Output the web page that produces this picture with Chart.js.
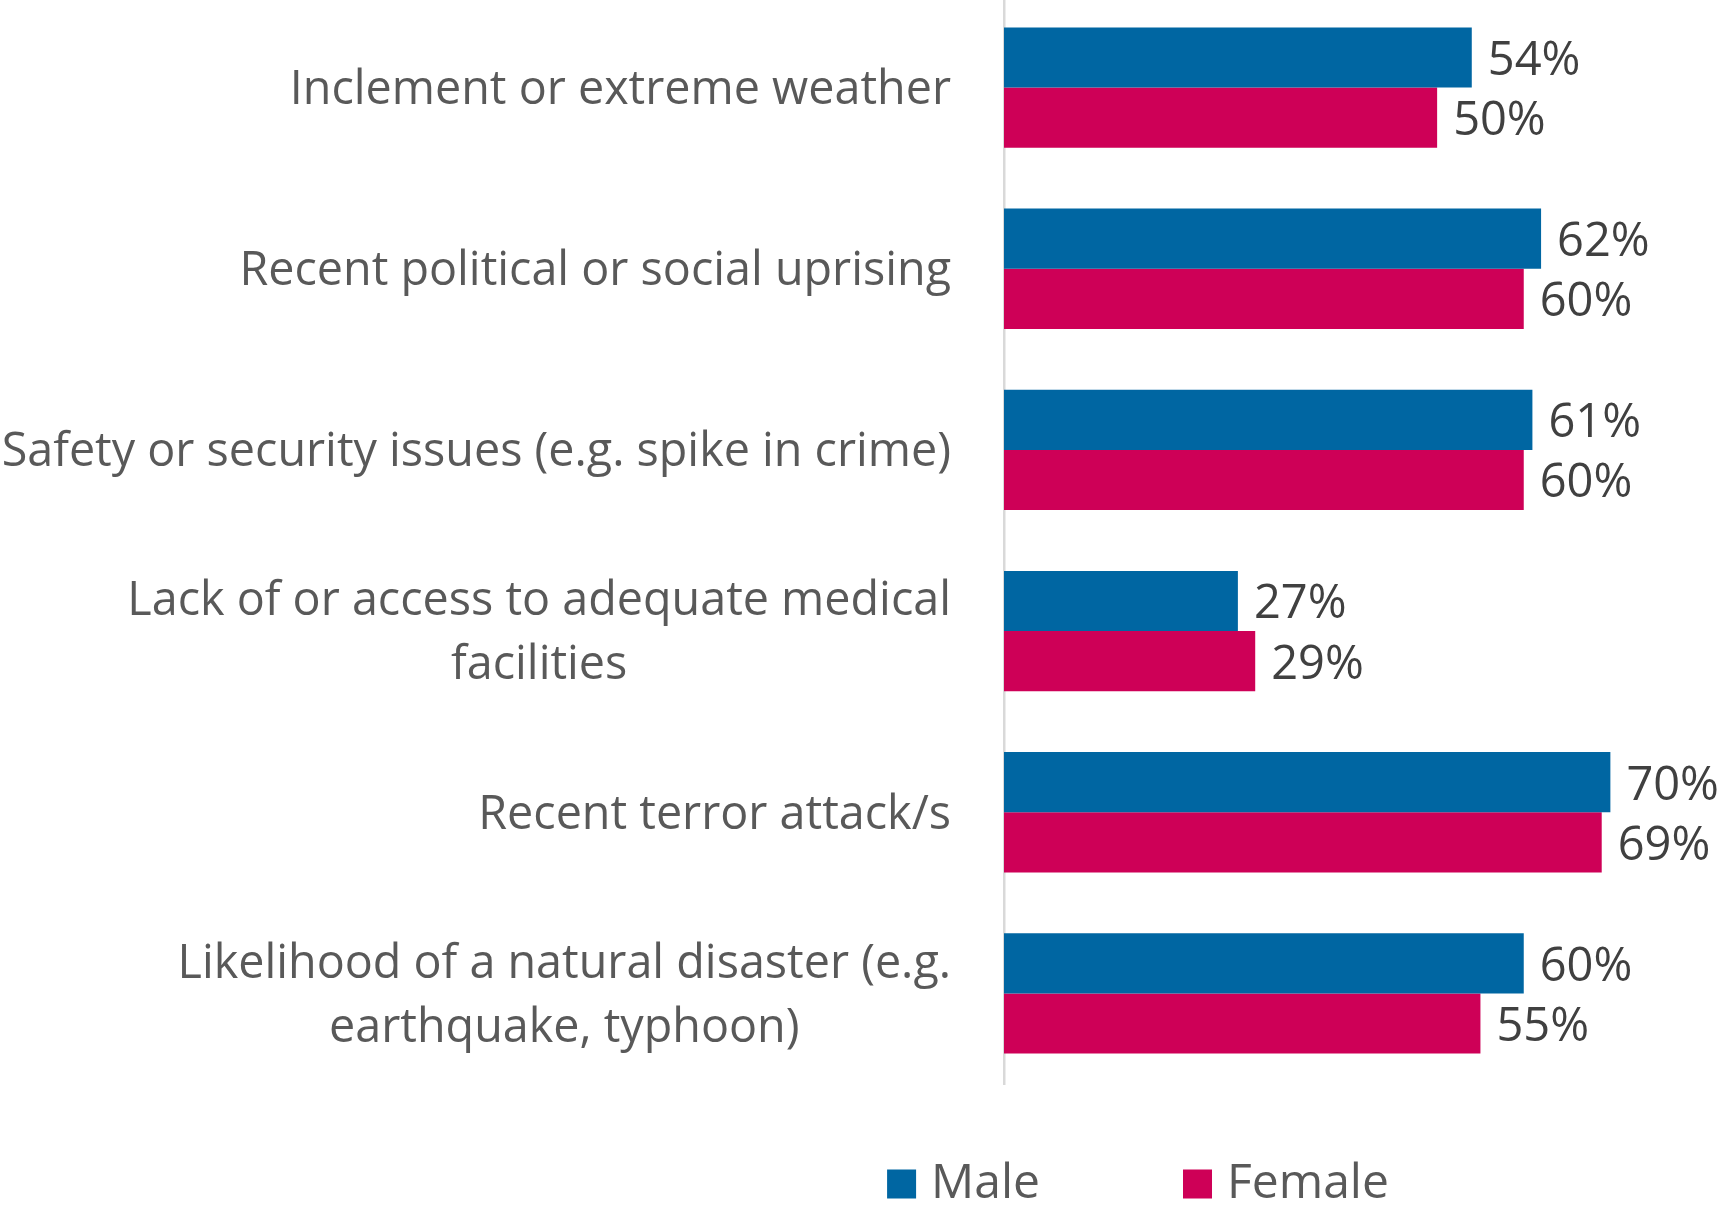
<!DOCTYPE html>
<html>
<head>
<meta charset="utf-8">
<script src="https://cdn.jsdelivr.net/npm/chart.js@4/dist/chart.umd.min.js"></script>
<style>
  html, body { margin: 0; padding: 0; background: #ffffff; overflow: hidden; }
  #wrap { width: 1722px; height: 1206px; position: relative; overflow: hidden; }
  #inner { position: absolute; left: 0; top: -3px; width: 1722px; height: 1209px; }
</style>
</head>
<body>
<div id="wrap"><div id="inner"><canvas id="chart"></canvas></div></div>
<script>
// Reasons for travel concern, by gender (percent of respondents)
const categories = [
  ['Inclement or extreme weather'],
  ['Recent political or social uprising'],
  ['Safety or security issues (e.g. spike in crime)'],
  ['Lack of or access to adequate medical', 'facilities'],
  ['Recent terror attack/s'],
  ['Likelihood of a natural disaster (e.g.', 'earthquake, typhoon)']
];
const seriesNames = ['Male', 'Female'];
const maleValues = [54, 62, 61, 27, 70, 60];
const femaleValues = [50, 60, 60, 29, 69, 55];

const FONT = '"Open Sans", "Noto Sans", sans-serif';
const MALE_COLOR = '#0066a2';
const FEMALE_COLOR = '#ce0057';

// Category labels: block right-aligned against the axis, lines centred within the block
const categoryLabels = {
  id: 'categoryLabels',
  afterDraw(chart) {
    const scale = chart.scales.y;
    const ctx = chart.ctx;
    const right = scale.right - 53;
    const lineHeight = 64;
    ctx.save();
    ctx.font = '46.7px ' + FONT;
    ctx.fillStyle = '#595959';
    ctx.textAlign = 'center';
    ctx.textBaseline = 'middle';
    chart.data.labels.forEach((lines, i) => {
      const y = scale.getPixelForTick(i) + 3;
      const maxW = Math.max(...lines.map(l => ctx.measureText(l).width));
      const cx = right - maxW / 2;
      lines.forEach((line, j) => {
        ctx.fillText(line, cx, y + (j - (lines.length - 1) / 2) * lineHeight);
      });
    });
    ctx.restore();
  }
};

// Percentage labels just past the end of each bar
const valueLabels = {
  id: 'valueLabels',
  afterDatasetsDraw(chart) {
    const ctx = chart.ctx;
    ctx.save();
    ctx.font = '47px ' + FONT;
    ctx.fillStyle = '#404040';
    ctx.textAlign = 'left';
    ctx.textBaseline = 'middle';
    chart.data.datasets.forEach((ds, di) => {
      chart.getDatasetMeta(di).data.forEach((el, i) => {
        ctx.fillText(ds.data[i] + '%', el.x + 16, el.y + 4);
      });
    });
    ctx.restore();
  }
};

// Legend row below the plot
const bottomLegend = {
  id: 'bottomLegend',
  afterDraw(chart) {
    const ctx = chart.ctx;
    const box = 29, gapText = 15, gapItem = 143;
    const centerX = 1138, centerY = 1187;
    ctx.save();
    ctx.font = '48px ' + FONT;
    ctx.textBaseline = 'middle';
    ctx.textAlign = 'left';
    const items = chart.data.datasets.map(ds => ({
      label: ds.label, color: ds.backgroundColor, w: ctx.measureText(ds.label).width
    }));
    const total = items.reduce((s, it) => s + box + gapText + it.w, 0) + gapItem * (items.length - 1);
    let x = centerX - total / 2;
    items.forEach(it => {
      ctx.fillStyle = it.color;
      ctx.fillRect(x, centerY - box / 2, box, box);
      ctx.fillStyle = '#595959';
      ctx.fillText(it.label, x + box + gapText, centerY);
      x += box + gapText + it.w + gapItem;
    });
    ctx.restore();
  }
};

new Chart(document.getElementById('chart'), {
  type: 'bar',
  data: {
    labels: categories,
    datasets: [
      { label: seriesNames[0], data: maleValues, backgroundColor: MALE_COLOR },
      { label: seriesNames[1], data: femaleValues, backgroundColor: FEMALE_COLOR }
    ]
  },
  options: {
    indexAxis: 'y',
    responsive: true,
    maintainAspectRatio: false,
    animation: false,
    categoryPercentage: 0.664,
    barPercentage: 1.0,
    layout: { padding: { top: 0, right: 25, bottom: 122, left: 0 } },
    plugins: {
      legend: { display: false },
      tooltip: { enabled: false }
    },
    scales: {
      x: {
        min: 0,
        max: 80,
        display: false
      },
      y: {
        grid: { display: false },
        border: { display: true, color: '#d9d9d9', width: 2.5 },
        ticks: { display: false },
        afterFit(scale) { scale.width = 1004; }
      }
    }
  },
  plugins: [categoryLabels, valueLabels, bottomLegend]
});
</script>
</body>
</html>
